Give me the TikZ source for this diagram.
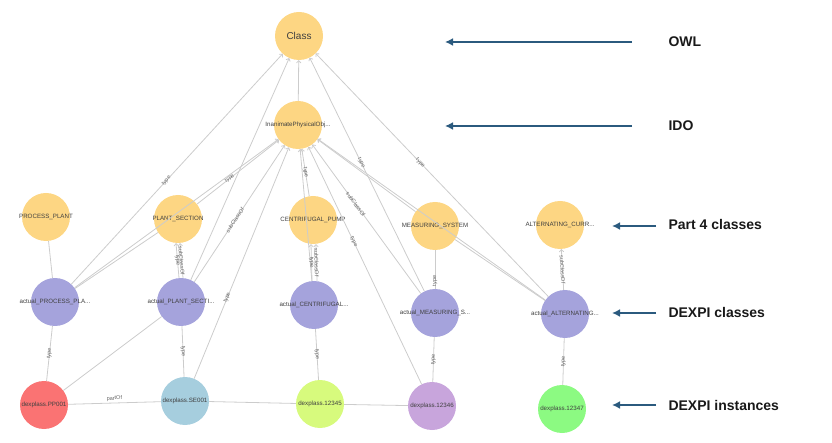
\documentclass[tikz,border=0pt]{standalone}
\usepackage{fontspec}
\setmainfont{Liberation Sans}
\usetikzlibrary{arrows.meta}
\definecolor{cls}{HTML}{FDD683}
\definecolor{act}{HTML}{A5A3DC}
\definecolor{edge}{HTML}{CCCCCC}
\definecolor{arr}{HTML}{2B5A7E}
\begin{document}
\begin{tikzpicture}[x=1pt,y=-1pt,
 n/.style={circle,minimum size=48pt,inner sep=0pt,label={[text=black!75,font=\fontsize{6.2}{7}\selectfont,inner sep=0pt]center:#1}},
 c/.style={n=#1,fill=cls}, a/.style={n=#1,fill=act},
 e/.style={draw=edge,line width=0.8pt,-{To[length=3pt,width=5pt]}},
 ln/.style={draw=edge,line width=0.8pt},
 lab/.style={font=\fontsize{5.5}{6}\selectfont,text=black!60,sloped,inner sep=0.5pt},
 big/.style={font=\fontsize{14}{16}\selectfont\bfseries,text=black!90,anchor=west},
 ar/.style={draw=arr,line width=2pt,-{Latex[length=8pt,width=8pt]}}]
\useasboundingbox (0,0) rectangle (832,443);
% nodes
\node[circle,minimum size=48pt,inner sep=0pt,fill=cls,text=black!75,font=\fontsize{10}{11}\selectfont] (cl) at (299,36) {Class};
\node[c={InanimatePhysicalObj...}] (ipo) at (298,125) {};
\node[c={PROCESS\_PLANT}] (pp) at (46,217) {};
\node[c={PLANT\_SECTION}] (ps) at (178,219) {};
\node[c={CENTRIFUGAL\_PUMP}] (cp) at (313,220) {};
\node[c={MEASURING\_SYSTEM}] (ms) at (435,226) {};
\node[c={ALTERNATING\_CURR...}] (al) at (560,225) {};
\node[a={actual\_PROCESS\_PLA...}] (app) at (55,302) {};
\node[a={actual\_PLANT\_SECTI...}] (aps) at (181,302) {};
\node[a={actual\_CENTRIFUGAL...}] (acp) at (314,305) {};
\node[a={actual\_MEASURING\_S...}] (ams) at (435,313) {};
\node[a={actual\_ALTERNATING...}] (aal) at (565,314) {};
\node[n={dexplass.PP001},fill={rgb,255:red,250;green,115;blue,115}] (i1) at (44,405) {};
\node[n={dexplass.SE001},fill={rgb,255:red,166;green,206;blue,222}] (i2) at (185,401) {};
\node[n={dexplass.12345},fill={rgb,255:red,215;green,250;blue,125}] (i3) at (320,404) {};
\node[n={dexplass.12346},fill={rgb,255:red,200;green,165;blue,220}] (i4) at (432,406) {};
\node[n={dexplass.12347},fill={rgb,255:red,140;green,250;blue,130}] (i5) at (562,409) {};
% edges to Class
\draw[e] (ipo) -- (cl);
\draw[e] (app) -- node[lab,pos=0.45]{type} (cl);
\draw[e] (aps) -- (cl);
\draw[e] (ams) -- node[lab,pos=0.55]{type} (cl);
\draw[e] (aal) -- node[lab,pos=0.55]{type} (cl);
% edges to IPO
\draw[e] (ps) -- node[lab,pos=0.4]{type} (ipo);
\draw[e] (app) -- (ipo);
\draw[e] (aps) -- node[lab,pos=0.45]{subClassOf} (ipo);
\draw[e] (i2) -- node[lab,pos=0.35]{type} (ipo);
\draw[e] (cp) -- node[lab]{type} (ipo);
\draw[e] (acp) -- (ipo);
\draw[e] (ms) -- (ipo);
\draw[e] (ams) -- node[lab,pos=0.6]{subClassOf} (ipo);
\draw[e] (i4) -- node[lab,pos=0.6]{type} (ipo);
\draw[e] (aal) -- (ipo);
% class level
\draw[ln] (pp) -- (app);
\draw[e] ([xshift=-2pt]aps.north) -- node[lab]{type} ([xshift=-2pt]ps.south);
\draw[e] ([xshift=2pt]aps.north) -- node[lab]{subClassOf} ([xshift=2pt]ps.south);
\draw[ln] (app) -- (ps);
\draw[e] ([xshift=-2pt]acp.north) -- node[lab]{type} ([xshift=-2pt]cp.south);
\draw[e] ([xshift=3pt]acp.north) -- node[lab]{subClassOf} ([xshift=3pt]cp.south);
\draw[ln] (ams) -- node[lab,pos=0.2]{type} (ms);
\draw[ln] (ms) -- (aal);
\draw[e] (aal) -- node[lab]{subClassOf} (al);
\draw[ln] (i1) -- (aps);
% instances
\draw[ln] (i1) -- node[lab]{type} (app);
\draw[ln] (i2) -- node[lab]{type} (aps);
\draw[ln] (i3) -- node[lab]{type} (acp);
\draw[ln] (i4) -- node[lab]{type} (ams);
\draw[ln] (i5) -- node[lab]{type} (aal);
\draw[ln] (i1) -- node[lab,above=1pt]{partOf} (i2);
\draw[ln] (i2) -- (i3);
\draw[ln] (i3) -- (i4);
% labels
\draw[ar] (632,42) -- (445,42); \node[big] (t1) at (665,42) {OWL};
\draw[ar] (632,126) -- (445,126); \node[big] (t2) at (665,126) {IDO};
\draw[ar] (656,226) -- (612,226); \node[big] (t3) at (665,224) {Part 4 classes};
\draw[ar] (656,313) -- (612,313); \node[big] (t4) at (665,312) {DEXPI classes};
\draw[ar] (656,405) -- (612,405); \node[big] (t5) at (665,405) {DEXPI instances};
\end{tikzpicture}
\end{document}
